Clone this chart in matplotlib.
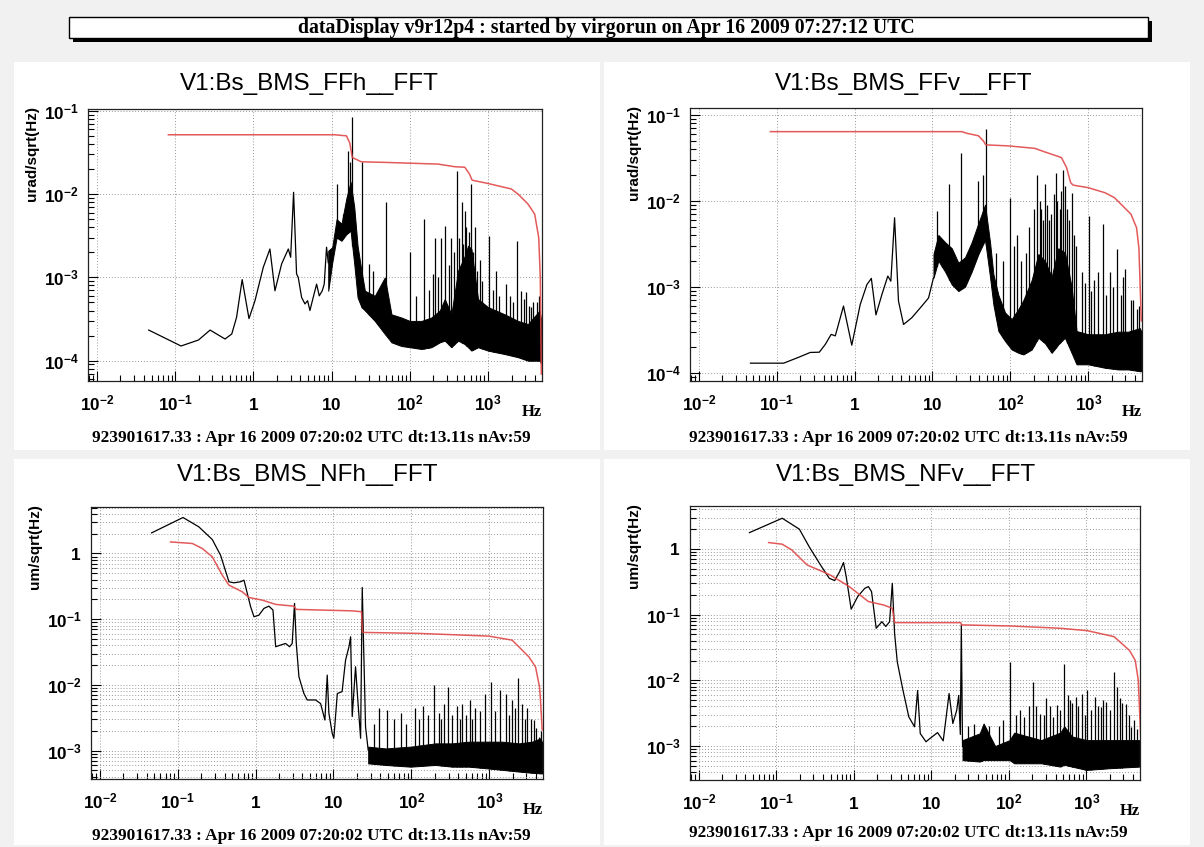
import numpy as np
import matplotlib
matplotlib.use('Agg')
import matplotlib.pyplot as plt
from matplotlib.patches import Rectangle
from matplotlib.ticker import LogLocator, NullFormatter

# dataDisplay style spectra, 4 pads

W, H = 1204, 847

header = 'dataDisplay v9r12p4 : started by virgorun on Apr 16 2009 07:27:12 UTC'
footer = '923901617.33 : Apr 16 2009 07:20:02 UTC dt:13.11s nAv:59'
titles = ['V1:Bs_BMS_FFh__FFT', 'V1:Bs_BMS_FFv__FFT', 'V1:Bs_BMS_NFh__FFT', 'V1:Bs_BMS_NFv__FFT']
ylabels = ['urad/sqrt(Hz)', 'urad/sqrt(Hz)', 'um/sqrt(Hz)', 'um/sqrt(Hz)']

x_ticks = [1e-2, 1e-1, 1, 10, 1e2, 1e3]
x_ticklabels = [r'$10^{-2}$', r'$10^{-1}$', r'$1$', r'$10$', r'$10^{2}$', r'$10^{3}$']
ff_yticks = [1e-4, 1e-3, 1e-2, 1e-1]
ff_yticklabels = [r'$10^{-4}$', r'$10^{-3}$', r'$10^{-2}$', r'$10^{-1}$']
nf_yticks = [1e-3, 1e-2, 1e-1, 1]
nf_yticklabels = [r'$10^{-3}$', r'$10^{-2}$', r'$10^{-1}$', r'$1$']

### FFh (top left)
ffh_line_f = [0.046, 0.119, 0.199, 0.28, 0.435, 0.53, 0.61, 0.72, 0.88, 1.05, 1.34, 1.63, 1.89, 2.3, 2.8, 3.0,
              3.27, 3.57, 3.75, 4.14, 4.57, 4.94, 5.29, 5.83, 6.44, 6.96, 7.6, 8.06, 8.63, 9.07]
ffh_line_v = [2.33e-4, 1.5e-4, 1.77e-4, 2.33e-4, 1.82e-4, 2.09e-4, 3.3e-4, 9.4e-4, 3.2e-4, 5.25e-4, 1.32e-3, 2.19e-3,
              6.9e-4, 1.45e-3, 2.19e-3, 1.74e-3, 1.05e-2, 1.1e-3, 1.0e-3, 5.75e-4, 4.8e-4, 5.25e-4, 4.0e-4, 5.75e-4,
              8.3e-4, 6.0e-4, 6.9e-4, 8.3e-4, 2.3e-3, 1.5e-3]
ffh_band_f = [9.07, 10.2, 11.6, 13.4, 15.5, 17.5, 19.5, 21.5, 24.1, 26.7, 35.7, 48, 58.3, 78, 100, 141, 189, 242,
              280, 340, 414, 504, 556, 613, 745, 1000, 1633, 2415, 3243, 4570, 4800]
ffh_band_lo = [6.9e-4, 1.5e-3, 3.0e-3, 2.75e-3, 3.3e-3, 3.63e-3, 1.45e-3, 5.75e-4, 4.4e-4, 4.0e-4, 3.0e-4, 2.09e-4,
               1.66e-4, 1.5e-4, 1.45e-4, 1.38e-4, 1.45e-4, 1.66e-4, 1.74e-4, 1.45e-4, 1.74e-4, 1.58e-4, 1.45e-4,
               1.32e-4, 1.45e-4, 1.32e-4, 1.2e-4, 1.1e-4, 1.0e-4, 1.0e-4, 9.2e-5]
ffh_band_hi = [2.09e-3, 2.3e-3, 5.0e-3, 4.4e-3, 9.0e-3, 1.4e-2, 7.0e-3, 2.4e-3, 1.2e-3, 6.9e-4, 6.0e-4, 1.0e-3,
               3.6e-4, 3.3e-4, 3.0e-4, 3.0e-4, 3.3e-4, 4.0e-4, 5.5e-4, 3.6e-4, 1.2e-3, 1.8e-3, 2.4e-3, 2.2e-3,
               5.5e-4, 4.4e-4, 3.6e-4, 3.0e-4, 2.75e-4, 4.0e-4, 3.0e-4]
ffh_spike_f = [11.6, 14.1, 16.3, 17.1, 18.4, 24.6, 30, 34, 49, 100, 150, 199, 211, 248, 286, 340, 400, 462, 505,
               609, 680, 783, 1015, 1277, 1713, 2340, 2666, 3085, 3573, 4200,
               120, 175, 230, 320, 370, 430, 480, 530, 570, 650, 720, 850, 1150, 1400, 1900, 2100, 2900, 3300,
               3800, 4450]
ffh_spike_v = [1.32e-2, 5.75e-3, 3.3e-2, 2.4e-2, 8.5e-2, 2.4e-2, 1.45e-3, 1.2e-3, 8.1e-3, 2.0e-3, 5.0e-3, 1.1e-3,
               3.0e-3, 3.0e-3, 4.1e-3, 3.0e-3, 1.88e-2, 8.1e-3, 6.3e-3, 1.32e-2, 4.0e-3, 1.6e-3, 3.1e-3, 1.2e-3,
               8.3e-4, 2.7e-3, 6.9e-4, 6.6e-4, 4.4e-4, 5.0e-4,
               6.0e-4, 7.0e-4, 1.0e-3, 1.4e-3, 2.0e-3, 3.0e-3, 2.5e-3, 4.0e-3, 3.5e-3, 2.0e-3, 1.2e-3, 9.0e-4,
               7.0e-4, 6.0e-4, 6.0e-4, 5.0e-4, 5.5e-4, 4.5e-4, 5.0e-4, 6.0e-4]
ffh_rms_f = [0.082, 11, 15.5, 17.1, 18.4, 19.8, 24, 48, 230, 376, 505, 580, 625, 1000, 1990, 2420, 3240, 3950,
             4450, 4660, 4800]
ffh_rms_v = [0.0515, 0.0515, 0.050, 0.041, 0.0275, 0.0266, 0.0244, 0.024, 0.0229, 0.0213, 0.021, 0.0174, 0.0147,
             0.0134, 0.0115, 0.010, 0.0076, 0.00575, 0.003, 0.001, 6.9e-5]

### FFv (top right)
ffv_line_f = [0.046, 0.123, 0.191, 0.27, 0.352, 0.42, 0.50, 0.565, 0.72, 0.92, 1.18, 1.44, 1.64, 1.88, 2.24, 2.67,
              2.92, 3.26, 3.66, 4.25, 5.43, 7.3, 8.9, 10.3]
ffv_line_v = [1.29e-4, 1.29e-4, 1.51e-4, 1.72e-4, 1.73e-4, 2.13e-4, 2.79e-4, 2.68e-4, 5.96e-4, 2.09e-4, 6.2e-4,
              1.06e-3, 1.25e-3, 4.7e-4, 8.1e-4, 1.33e-3, 1.16e-3, 6.35e-3, 6.8e-4, 3.64e-4, 4.36e-4, 5.96e-4,
              7.4e-4, 1.27e-3]
ffv_band_f = [10.3, 11.9, 14.5, 17.7, 21.5, 26.2, 31.9, 38.9, 47.3, 54.8, 60.5, 70.2, 85.5, 104, 127, 147, 188,
              229, 278, 339, 412, 502, 611, 708, 1000, 1635, 2425, 3258, 4593, 4800]
ffv_band_lo = [1.27e-3, 2.0e-3, 1.5e-3, 1.06e-3, 8.9e-4, 1.0e-3, 1.5e-3, 2.4e-3, 3.5e-3, 1.3e-3, 6.2e-4, 3.05e-4,
               2.33e-4, 1.86e-4, 1.7e-4, 1.63e-4, 1.86e-4, 2.55e-4, 2.2e-4, 1.7e-4, 2.13e-4, 2.55e-4, 1.7e-4,
               1.25e-4, 1.25e-4, 1.14e-4, 1.09e-4, 1.09e-4, 1.04e-4, 1.04e-4]
ffv_band_hi = [2.4e-3, 4.0e-3, 3.3e-3, 2.8e-3, 1.9e-3, 2.2e-3, 3.3e-3, 5.5e-3, 9.0e-3, 3.3e-3, 1.4e-3, 8.0e-4,
               5.0e-4, 4.2e-4, 5.5e-4, 7.0e-4, 1.2e-3, 2.4e-3, 2.0e-3, 1.3e-3, 2.8e-3, 2.5e-3, 1.0e-3, 3.05e-4,
               2.8e-4, 2.8e-4, 3.0e-4, 3.0e-4, 3.3e-4, 3.0e-4]
ffv_spike_f = [11.4, 13.4, 16.5, 23.3, 29, 38.9, 45, 48.3, 99, 120, 160, 218, 250, 278, 310, 381, 430, 478, 540,
               611, 700, 820, 1020, 1200, 1528, 1900, 2308, 2800, 3500, 4200,
               65, 80, 110, 135, 175, 200, 240, 265, 295, 330, 360, 400, 450, 500, 560, 650, 900, 1100, 1350,
               1700, 2100, 2600, 3000, 3800, 4500]
ffv_spike_v = [7.6e-3, 3.5e-3, 1.55e-2, 3.6e-2, 2.2e-3, 1.7e-2, 2.0e-2, 6.8e-2, 1.09e-2, 4.0e-3, 2.5e-3, 2.0e-2,
               8.0e-3, 1.55e-2, 6.0e-3, 2.1e-2, 8.0e-3, 2.3e-2, 8.0e-3, 1.24e-2, 3.0e-3, 1.5e-3, 6.65e-3, 1.2e-3,
               5.4e-3, 1.5e-3, 2.72e-3, 1.3e-3, 7.0e-4, 5.5e-4,
               2.5e-3, 2.0e-3, 3.0e-3, 2.0e-3, 5.0e-3, 8.0e-3, 1.0e-2, 6.0e-3, 9.0e-3, 7.0e-3, 1.2e-2, 1.0e-2,
               1.3e-2, 1.5e-2, 6.0e-3, 4.0e-3, 1.1e-3, 9.0e-4, 1.5e-3, 8.0e-4, 1.0e-3, 8.0e-4, 1.6e-3, 7.0e-4,
               6.0e-4]
ffv_rms_f = [0.083, 23.8, 27.5, 38.9, 45, 48.3, 94, 206, 277, 453, 527, 595, 640, 1000, 1640, 2160, 2640, 3540,
             4170, 4470, 4800]
ffv_rms_v = [0.0637, 0.0637, 0.061, 0.057, 0.0497, 0.0447, 0.0435, 0.0407, 0.037, 0.0318, 0.0243, 0.0162, 0.0152,
             0.0142, 0.0124, 0.0109, 0.0091, 0.00697, 0.00486, 0.00284, 4.0e-4]

### NFh (bottom left)
nfh_line_f = [0.0462, 0.117, 0.187, 0.278, 0.355, 0.455, 0.527, 0.64, 0.709, 0.745, 0.863, 0.953, 1.10, 1.28, 1.48,
              1.67, 1.81, 2.09, 2.43, 2.73, 2.95, 3.16, 3.33, 3.6, 4.17, 4.6, 5.89, 6.83, 7.76, 8.31, 8.73, 9.64,
              10.1, 11.2, 12.9, 14.3, 15.8, 16.6, 17.4, 19.2, 20.5, 22.3, 23.4, 25.8, 27.9]
nfh_line_v = [2.06, 3.53, 2.54, 1.63, 0.94, 0.371, 0.358, 0.371, 0.393, 0.311, 0.155, 0.109, 0.115, 0.146, 0.158,
              0.138, 0.0381, 0.0404, 0.0427, 0.0381, 0.0427, 0.174, 0.0427, 0.0133, 7.4e-3, 5.9e-3, 5.9e-3, 5.2e-3,
              2.92e-3, 0.0141, 3.7e-3, 1.83e-3, 1.54e-3, 7.4e-3, 7.9e-3, 0.0239, 0.038, 0.054, 3.3e-3, 0.0189,
              6.0e-3, 1.54e-3, 0.304, 2.3e-3, 1.02e-3]
nfh_band_f = [27.9, 46.6, 97.5, 204, 334, 547, 895, 1465, 2397, 3555, 4550, 4800]
nfh_band_lo = [6.4e-4, 6.05e-4, 5.7e-4, 6.05e-4, 5.7e-4, 5.7e-4, 5.4e-4, 5.1e-4, 4.8e-4, 4.6e-4, 4.5e-4, 4.5e-4]
nfh_band_hi = [1.15e-3, 1.08e-3, 1.15e-3, 1.29e-3, 1.29e-3, 1.37e-3, 1.37e-3, 1.37e-3, 1.29e-3, 1.37e-3, 1.54e-3,
               1.3e-3]
nfh_spike_f = [38.3, 49, 72.6, 113, 141, 194, 225, 261, 297, 387, 449, 558, 653, 895, 1038, 1394, 1618, 1968,
               2330, 2644, 3068, 3733, 4325,
               33, 60, 85, 125, 165, 240, 330, 420, 500, 600, 750, 1200, 1800, 2150, 2900, 3400, 4000, 4600]
nfh_spike_v = [4.4e-3, 4.15e-3, 3.7e-3, 4.4e-3, 4.7e-3, 0.010, 3.7e-3, 5.2e-3, 9.4e-3, 4.7e-3, 5.2e-3, 5.9e-3,
               4.4e-3, 7.4e-3, 0.0112, 8.4e-3, 7.4e-3, 5.9e-3, 0.0126, 5.2e-3, 4.4e-3, 2.9e-3, 1.63e-3,
               2.5e-3, 3.0e-3, 2.5e-3, 3.0e-3, 3.5e-3, 3.0e-3, 3.5e-3, 3.0e-3, 3.5e-3, 3.0e-3, 4.0e-3, 4.0e-3,
               3.5e-3, 4.5e-3, 3.0e-3, 3.0e-3, 2.2e-3, 2.0e-3]
nfh_rms_f = [0.081, 0.154, 0.207, 0.278, 0.373, 0.455, 0.675, 0.82, 1.22, 1.81, 3.1, 3.33, 17.4, 22.9, 23.6, 125,
             988, 1969, 2400, 3220, 3925, 4415, 4550, 4780]
nfh_rms_v = [1.50, 1.42, 1.19, 0.89, 0.469, 0.33, 0.261, 0.214, 0.195, 0.168, 0.158, 0.141, 0.134, 0.13, 0.063,
             0.0608, 0.0553, 0.048, 0.038, 0.0268, 0.0189, 0.0094, 0.0059, 0.00206]

### NFv (bottom right)
nfv_line_f = [0.045, 0.119, 0.198, 0.264, 0.371, 0.482, 0.565, 0.656, 0.735, 0.796, 0.923, 1.12, 1.38, 1.54, 1.69,
              1.94, 2.3, 2.58, 2.89, 3.13, 3.35, 3.63, 4.3, 5.11, 6.06, 6.64, 7.18, 8.52, 9.55, 12, 14.2, 16.9,
              18.9, 21.2, 22.5, 23.6, 24.3, 25.2]
nfv_line_v = [1.77, 2.93, 2.0, 1.09, 0.57, 0.357, 0.33, 0.452, 0.62, 0.379, 0.121, 0.188, 0.251, 0.267, 0.224,
              0.062, 0.078, 0.066, 0.078, 0.30, 0.052, 0.019, 7.05e-3, 2.78e-3, 1.96e-3, 7.0e-3, 1.55e-3, 1.16e-3,
              1.3e-3, 1.6e-3, 1.2e-3, 6.3e-3, 2.2e-3, 3.5e-3, 5.9e-3, 1.5e-3, 0.0697, 9.8e-4]
nfv_band_f = [25.2, 42, 47.1, 66.3, 102, 117, 260, 460, 516, 649, 1000, 2027, 4766]
nfv_band_lo = [6.1e-4, 5.8e-4, 6.1e-4, 6.1e-4, 6.1e-4, 5.46e-4, 5.46e-4, 4.86e-4, 5.2e-4, 4.86e-4, 4.33e-4,
               4.6e-4, 4.86e-4]
nfv_band_hi = [1.23e-3, 1.56e-3, 2.2e-3, 1.0e-3, 1.23e-3, 1.6e-3, 1.23e-3, 1.6e-3, 2.0e-3, 1.4e-3, 1.23e-3,
               1.23e-3, 1.23e-3]
nfv_spike_f = [102, 124, 156, 207, 252, 302, 366, 411, 516, 613, 727, 863, 1023, 1285, 1525, 1808, 2270, 2697,
               3200, 3796,
               30, 35, 55, 75, 85, 140, 180, 225, 280, 340, 450, 570, 660, 780, 950, 1150, 1400, 1650, 2000,
               2500, 2900, 3500, 4100, 4500]
nfv_spike_v = [0.019, 2.95e-3, 2.8e-3, 9.4e-3, 3.1e-3, 5.3e-3, 2.8e-3, 4.2e-3, 0.0179, 4.97e-3, 5.6e-3, 6.3e-3,
               7.0e-3, 5.6e-3, 3.9e-3, 4.7e-3, 0.0134, 5.3e-3, 4.4e-3, 1.96e-3,
               2.0e-3, 2.2e-3, 2.0e-3, 2.0e-3, 2.5e-3, 3.5e-3, 4.0e-3, 4.0e-3, 3.0e-3, 4.0e-3, 3.5e-3, 6.0e-3,
               4.5e-3, 4.0e-3, 3.0e-3, 3.5e-3, 4.0e-3, 5.0e-3, 3.5e-3, 8.0e-3, 4.5e-3, 3.0e-3, 2.5e-3, 1.8e-3]
nfv_rms_f = [0.0796, 0.119, 0.158, 0.249, 0.351, 0.493, 0.873, 1.54, 2.43, 3.13, 3.35, 23.8, 24.6, 102, 460, 1023,
             2270, 3585, 4254, 4660, 4875, 5000]
nfv_rms_v = [1.25, 1.18, 0.966, 0.57, 0.479, 0.402, 0.267, 0.158, 0.14, 0.125, 0.0755, 0.0755, 0.0697, 0.0672,
             0.062, 0.057, 0.0462, 0.0285, 0.0201, 0.01, 2.78e-3, 1.38e-3]

plt.rcParams['font.family'] = 'Liberation Sans'
plt.rcParams['mathtext.fontset'] = 'custom'
plt.rcParams['mathtext.rm'] = 'Liberation Sans:bold'
plt.rcParams['mathtext.it'] = 'Liberation Sans:bold'
plt.rcParams['mathtext.bf'] = 'Liberation Sans:bold'
plt.rcParams['mathtext.default'] = 'rm'

fig = plt.figure(figsize=(W / 100.0, H / 100.0), dpi=100, facecolor='#f1f1f1')


def fx(x):
	return x / float(W)


def fy(y):
	return 1.0 - y / float(H)


def add_box(x0, y0, x1, y1, face, edge=None, lw=0.0, z=0):
	r = Rectangle((fx(x0), fy(y1)), fx(x1) - fx(x0), fy(y0) - fy(y1), transform=fig.transFigure,
	              facecolor=face, edgecolor=edge if edge else face, linewidth=lw, zorder=z)
	fig.add_artist(r)


# header box with shadow
add_box(73, 21, 1152, 42, 'black', z=1)
add_box(69, 17, 1148, 38, 'white', 'black', 1.0, z=2)
fig.text(fx(606), fy(28), header, ha='center', va='center', fontsize=14.3, fontweight='bold',
         family='Liberation Serif', zorder=3)

pads = [(14, 62, 600, 450), (604, 62, 1190, 450), (14, 459, 600, 845), (604, 459, 1190, 845)]
frames = [(88, 109, 542, 381), (690, 108, 1142, 381), (91, 507, 543, 779), (690, 506, 1140, 780)]
ylims = [(5.7e-5, 0.105), (8e-5, 0.12), (3.7e-4, 5.1), (3.04e-4, 4.5)]
title_xy = [(309, 84), (904, 84), (308, 475), (906, 475)]
foot_xy = [(311, 438), (908, 438), (311, 836), (908, 833)]


def draw_panel(k, line_f, line_v, band_f, band_lo, band_hi, spike_f, spike_v, rms_f, rms_v, yticks, ytlabels, dense):
	px0, py0, px1, py1 = pads[k]
	add_box(px0, py0, px1, py1, 'white', z=0)

	l, t, r, b = frames[k]
	ax = fig.add_axes([fx(l), fy(b), fx(r) - fx(l), fy(t) - fy(b)])
	ax.set_xscale('log')
	ax.set_yscale('log')
	ax.set_xlim(7.7e-3, 4900)
	ax.set_ylim(*ylims[k])

	ax.plot(line_f, line_v, color='black', lw=0.9, zorder=3)
	ax.fill_between(band_f, band_lo, band_hi, color='black', lw=0.7, zorder=3)
	base = 10 ** np.interp(np.log10(spike_f), np.log10(band_f), np.log10(band_lo))
	ax.vlines(spike_f, base, spike_v, color='black', lw=0.9, zorder=3)
	ax.plot(rms_f, rms_v, color='#e04848', lw=1.1, alpha=0.9, zorder=4)

	ax.set_xticks(x_ticks, x_ticklabels)
	ax.set_yticks(yticks, ytlabels)
	ax.xaxis.set_minor_locator(LogLocator(base=10, subs=np.arange(2, 10), numticks=100))
	ax.yaxis.set_minor_locator(LogLocator(base=10, subs=np.arange(2, 10), numticks=100))
	ax.xaxis.set_minor_formatter(NullFormatter())
	ax.yaxis.set_minor_formatter(NullFormatter())
	ax.tick_params(which='both', direction='in', top=False, right=False, width=0.8, labelsize=12.3)
	ax.tick_params(which='major', length=7)
	ax.tick_params(which='minor', length=4)
	ax.tick_params(axis='x', pad=21)
	ax.tick_params(axis='y', pad=7)
	for lab in ax.get_xticklabels():
		lab.set_va('baseline')

	gs = dict(linestyle=(0, (1, 2)), color='#9a9a9a', lw=0.7)
	ax.grid(True, which='major', **gs)
	if dense:
		ax.yaxis.grid(True, which='minor', **gs)
	ax.set_axisbelow(True)
	for s in ax.spines.values():
		s.set_linewidth(0.9)
		s.set_color('#222222')

	fig.text(fx(title_xy[k][0]), fy(title_xy[k][1]), titles[k], ha='center', va='center', fontsize=17.5)
	fig.text(fx(l - 56), fy(t - 3), ylabels[k], rotation=90, ha='center', va='top', fontsize=11,
	         fontweight='bold')
	fig.text(fx(r), fy(b + 31), 'Hz', ha='right', va='center', fontsize=12, fontweight='bold',
	         family='Liberation Serif')
	fig.text(fx(foot_xy[k][0]), fy(foot_xy[k][1]), footer, ha='center', va='center', fontsize=12.4,
	         fontweight='bold', family='Liberation Serif')
	return ax


draw_panel(0, ffh_line_f, ffh_line_v, ffh_band_f, ffh_band_lo, ffh_band_hi, ffh_spike_f, ffh_spike_v,
           ffh_rms_f, ffh_rms_v, ff_yticks, ff_yticklabels, False)
draw_panel(1, ffv_line_f, ffv_line_v, ffv_band_f, ffv_band_lo, ffv_band_hi, ffv_spike_f, ffv_spike_v,
           ffv_rms_f, ffv_rms_v, ff_yticks, ff_yticklabels, False)
draw_panel(2, nfh_line_f, nfh_line_v, nfh_band_f, nfh_band_lo, nfh_band_hi, nfh_spike_f, nfh_spike_v,
           nfh_rms_f, nfh_rms_v, nf_yticks, nf_yticklabels, True)
draw_panel(3, nfv_line_f, nfv_line_v, nfv_band_f, nfv_band_lo, nfv_band_hi, nfv_spike_f, nfv_spike_v,
           nfv_rms_f, nfv_rms_v, nf_yticks, nf_yticklabels, True)

fig.savefig('out.png', dpi=100, facecolor=fig.get_facecolor())
